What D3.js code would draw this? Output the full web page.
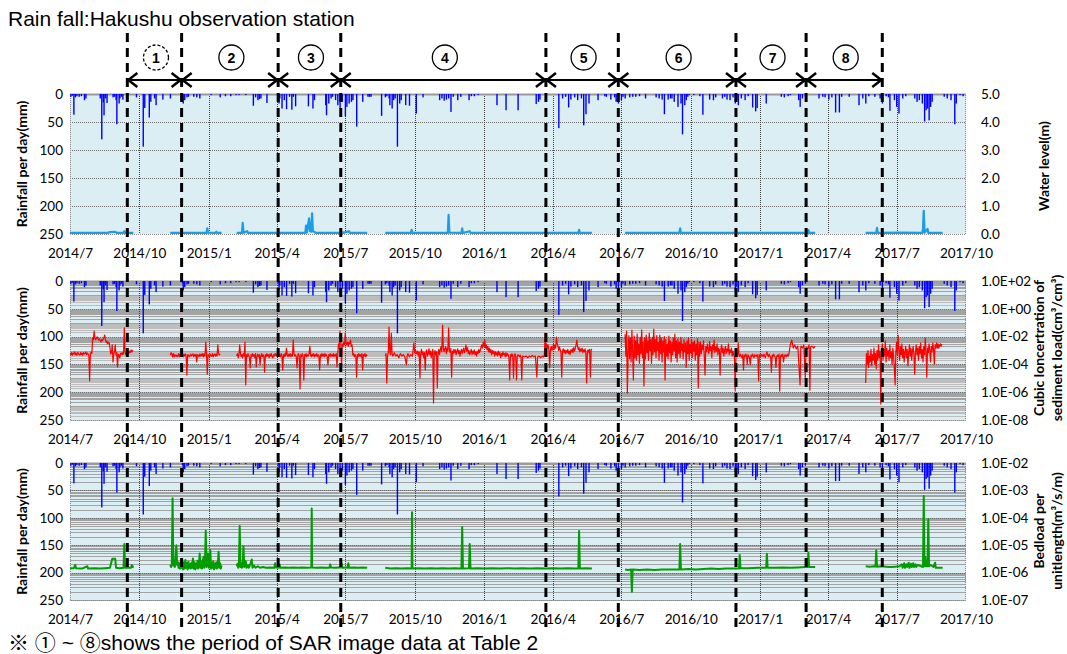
<!DOCTYPE html>
<html>
<head>
<meta charset="utf-8">
<script src="https://cdn.jsdelivr.net/npm/d3@7"></script>
<style>
  body { margin: 0; background: #fff; }
  svg { display: block; }
</style>
</head>
<body>
<svg id="chart" width="1067" height="654"></svg>
<script>
// ---- data (days counted from 2014/7/1) ----
var startDay = "2014-07-01";
var endDay = "2017-10-01";

var xTickLabels = ["2014/7","2014/10","2015/1","2015/4","2015/7","2015/10","2016/1","2016/4",
  "2016/7","2016/10","2017/1","2017/4","2017/7","2017/10"];

// SAR image dates (period boundaries)
var sarDates = ["2014-09-15","2014-11-26","2015-04-03","2015-06-25","2016-03-23",
  "2016-06-27","2016-11-30","2017-03-03","2017-06-12"];
var periodLabels = ["1","2","3","4","5","6","7","8"];

var rainTicks = [0, 50, 100, 150, 200, 250];
var levelTicks = [0, 1, 2, 3, 4, 5];
var concTicks = [1e2, 1e0, 1e-2, 1e-4, 1e-6, 1e-8];
var bedTicks = [1e-2, 1e-3, 1e-4, 1e-5, 1e-6, 1e-7];

// daily rainfall [day, mm]
var rainfall = [
  [1,5],[3,3],[5,37],[7,6],[9,4],[12,5],[15,4],[19,11],[21,8],
  [40,8],[42,81],[44,15],[45,38],[47,8],[49,16],
  [57,6],[59,5],[61,11],[62,54],[65,17],[66,8],[68,5],[70,10],
  [88,6],[97,94],[99,25],[105,42],[107,14],[112,8],[114,20],[123,10],[133,8],
  [149,4],[150,17],[152,11],[155,6],[157,5],[164,5],[168,6],[172,8],
  [187,2],[199,6],[206,4],[213,4],[220,2],[224,2],[233,2],
  [243,21],[246,6],[249,11],[251,9],[253,8],[261,16],
  [276,4],[277,17],[278,8],[281,26],[284,11],[287,27],[291,5],[294,28],[296,5],[299,22],
  [316,22],[322,26],[324,11],
  [339,20],[340,38],[343,17],[346,8],[348,5],[352,11],[355,20],[358,26],[361,14],
  [365,40],[367,23],[370,17],[373,14],[375,11],[380,58],[388,14],
  [395,5],[397,5],[399,5],[413,39],[418,6],[420,4],[423,8],[424,20],[427,26],[429,11],[431,8],[434,94],[437,17],[439,11],
  [445,20],[450,21],[459,35],[468,6],
  [490,11],[493,8],[496,12],[499,10],[502,8],[505,32],[508,5],[514,11],[518,5],[529,11],[532,4],[536,4],[541,2],
  [566,20],[578,29],[594,29],[618,18],[621,14],[623,10],
  [648,61],[653,8],[657,5],[661,24],[664,10],[669,6],[673,11],[678,8],[681,56],[684,36],[688,17],
  [700,11],[709,4],[711,5],[717,10],[722,6],[724,14],[727,17],[731,11],[733,5],[736,8],[742,6],[746,5],[750,5],[755,4],[763,8],
  [777,6],[781,8],[785,10],[788,36],
  [793,10],[796,8],[798,8],[801,14],[806,23],[810,17],[812,72],[815,20],[817,11],[819,5],[821,2],[827,2],[835,4],[839,37],
  [848,10],[853,11],[856,6],[865,8],[868,5],[871,10],[875,11],[879,6],[882,17],[884,11],[886,20],[890,8],[895,11],[899,4],
  [905,24],[909,31],[911,25],[923,17],
  [943,5],[947,6],[952,4],[955,2],[966,11],[968,23],[971,8],[975,5],
  [993,8],[998,5],[1001,6],[1006,10],[1010,6],[1015,33],[1020,33],[1023,5],[1033,5],
  [1046,20],[1051,8],[1055,17],[1059,4],[1067,5],[1074,8],[1077,17],[1082,4],[1085,6],[1087,30],[1093,11],[1096,23],[1099,35],
  [1104,8],[1108,4],[1120,8],[1123,14],[1126,11],[1130,17],[1133,49],[1135,29],[1137,26],[1139,47],[1141,23],[1143,14],
  [1159,5],[1163,8],[1168,11],[1173,54],[1175,17],[1180,2],[1184,4]
];

// water level [day, m], one list per recording period
var waterLevel = [
  [[0,0.04],[50,0.04],[53,0.07],[60,0.08],[62,0.04],[71,0.04],[72,0.1],[73,0.04],[84,0.04]],
  [[133,0.04],[181,0.04],[182,0.2],[183,0.05],[193,0.04],[194,0.08],[195,0.04],[201,0.04]],
  [[221,0.04],[228,0.04],[229,0.4],[230,0.05],[235,0.1],[236,0.04],[312,0.04],[313,0.3],[314,0.06],[317,0.56],[318,0.1],
   [319,0.4],[320,0.08],[321,0.74],[322,0.1],[325,0.06],[326,0.04],[360,0.04],[361,0.07],[362,0.04],[370,0.1],[371,0.04],[394,0.04]],
  [[418,0.04],[452,0.04],[453,0.15],[454,0.04],[501,0.04],[502,0.68],[503,0.05],[519,0.04],[520,0.2],[521,0.04],[530,0.1],
   [531,0.04],[674,0.04],[675,0.15],[676,0.04],[692,0.04]],
  [[736,0.04],[808,0.04],[809,0.2],[810,0.04],[882,0.04],[883,0.14],[884,0.04],[978,0.04],[979,0.14],[980,0.04],[988,0.04]],
  [[1055,0.04],[1069,0.04],[1070,0.22],[1071,0.04],[1102,0.05],[1130,0.04],[1131,0.2],[1132,0.83],[1133,0.05],[1137,0.18],
   [1138,0.04],[1157,0.04]]
];

// cubic concentration of sediment load [day, cm3/cm3]
var concentration = [
  [[0,6.6e-4],[1,5e-4],[2,7e-4],[3,4.5e-4],[4,6.6e-4],[5,5.6e-4],[6,8e-4],[7,5e-4],[8,6.5e-4],[9,4.5e-4],[10,7e-4],
   [11,6.6e-4],[12,5e-4],[13,4.7e-4],[14,7e-4],[15,5e-4],[16,6.6e-4],[17,4.5e-4],[18,7e-4],[19,5.6e-4],[20,6e-4],
   [21,7.8e-4],[22,5e-4],[23,6.5e-4],[24,5.6e-4],[25,4.5e-4],[26,6.4e-6],[27,5.6e-4],[28,7.8e-4],[29,6e-4],[30,7.9e-3],
   [31,6e-3],[32,2.5e-2],[33,7.9e-3],[34,6e-3],[35,8e-3],[36,9.4e-3],[37,7e-3],[38,5.7e-3],[39,7e-3],[40,5e-3],
   [41,4.1e-3],[42,6e-3],[43,5e-3],[44,6.7e-3],[45,8e-3],[46,1.3e-2],[47,6e-3],[48,4e-3],[49,4.8e-3],[50,3e-3],
   [51,4e-3],[52,3.5e-3],[53,1.5e-3],[54,5.6e-4],[55,7e-4],[56,2.5e-3],[57,1.5e-4],[58,6e-4],[59,8e-4],[60,2.5e-3],
   [61,4.7e-4],[62,7e-4],[63,6.5e-5],[64,5.6e-4],[65,4.7e-4],[66,2.9e-4],[67,6e-4],[68,6.6e-4],[69,5e-4],[70,7e-4],
   [71,5.5e-4],[72,4.2e-2],[73,7.8e-4],[74,5e-4],[75,7e-4],[76,5.6e-4],[77,7e-4],[78,6.6e-4],[79,9e-4],[80,7e-4],
   [81,1.1e-3],[82,8e-4],[83,1e-3],[84,9.2e-4]],
  [[133,4.7e-4],[134,7e-4],[135,5.6e-4],[136,3.5e-4],[137,6e-4],[138,3.4e-4],[139,5e-4],[140,4e-4],[141,4.7e-4],
   [142,3.5e-4],[143,4e-4],[144,6e-4],[145,3.5e-4],[146,5.6e-4],[147,4e-4],[148,5.5e-4],[149,4e-4],[150,3.5e-4],
   [151,5.5e-4],[152,4e-4],[153,5.6e-4],[154,4e-4],[155,1.7e-5],[156,5e-4],[157,4.7e-4],[158,3.5e-4],[159,4e-4],
   [160,5.5e-4],[161,4e-4],[162,5e-4],[163,5.6e-4],[164,3.5e-4],[165,5e-4],[166,4e-4],[167,5.5e-4],[168,1.5e-4],
   [169,5e-4],[170,4.7e-4],[171,3.5e-4],[172,5.5e-4],[173,4e-4],[174,5.6e-4],[175,4e-4],[176,6e-4],[177,3.5e-4],
   [178,5.6e-4],[179,4e-4],[180,4.1e-3],[181,6e-4],[182,2e-5],[183,5e-4],[184,4.7e-4],[185,3.5e-4],[186,5.5e-4],
   [187,4e-4],[188,4e-4],[189,6e-4],[190,3.5e-4],[191,5e-4],[192,5.6e-4],[193,4e-4],[194,5.5e-4],[195,4e-4],
   [196,2.5e-3],[197,6e-4],[198,4.7e-4],[199,5.6e-4]],
  [[221,4e-4],[222,6e-4],[223,3e-4],[224,5e-4],[225,2.5e-3],[226,6e-4],[227,3.5e-4],[228,5e-4],[229,3e-4],[230,6e-4],
   [231,4e-4],[232,4.1e-3],[233,3.3e-6],[234,5e-4],[235,3.5e-4],[236,6e-4],[237,4e-4],[238,3e-4],[239,5.5e-5],[240,5e-4],
   [241,3.5e-4],[242,6e-4],[243,4e-4],[244,5e-4],[245,3e-4],[246,6e-4],[247,6.5e-5],[248,4e-4],[249,5.5e-4],[250,3.5e-4],
   [251,5e-4],[252,9.1e-5],[253,4e-4],[254,6e-4],[255,3.5e-4],[256,5e-4],[257,4e-4],[258,2.8e-5],[259,5e-4],[260,3.5e-4],
   [261,6e-4],[262,4e-4],[263,5e-4],[264,3e-4],[265,5.5e-4],[266,4e-4],[267,6e-4],[268,3.5e-4],[269,2.9e-4],[270,5e-4],
   [271,4e-4],[272,6e-4],[273,4.5e-4],[274,5.5e-4],[275,3.5e-4],[276,6e-4],[277,4e-4],[278,5e-4],[279,3.5e-4],[280,6e-4],
   [281,4e-4],[282,4e-5],[283,5e-4],[284,3.5e-4],[285,6e-4],[286,4e-4],[287,1.5e-3],[288,5e-4],[289,3.5e-4],[290,5.5e-4],
   [291,4e-4],[292,6e-4],[293,3.5e-4],[294,5e-4],[295,4e-4],[296,5.7e-3],[297,6e-4],[298,4e-4],[299,5e-4],[300,3.5e-4],
   [301,5.5e-5],[302,4.5e-4],[303,6e-4],[304,4e-4],[305,1.7e-6],[306,5e-4],[307,3.5e-4],[308,6e-4],[309,4e-4],[310,7.6e-6],
   [311,5e-4],[312,4e-4],[313,6e-4],[314,3.5e-4],[315,5e-4],[316,4e-4],[317,6e-4],[318,2.1e-3],[319,4.5e-4],[320,3.5e-4],
   [321,5.5e-4],[322,4e-4],[323,6e-4],[324,3.5e-4],[325,5e-4],[326,4e-4],[327,6e-4],[328,3.5e-4],[329,5e-4],[330,4e-4],
   [331,4e-5],[332,5e-4],[333,3.5e-4],[334,6e-4],[335,4e-4],[336,5.5e-4],[337,3.5e-4],[338,6e-4],[339,4e-4],[340,5e-4],
   [341,3.5e-4],[342,9.1e-5],[343,5e-4],[344,4e-4],[345,6e-4],[346,3.5e-4],[347,5e-4],[348,4e-4],[349,6e-4],[350,3.5e-4],
   [351,5e-4],[352,4e-4],[353,6e-4],[354,6.5e-5],[355,5.6e-4],[356,3e-3],[357,1.5e-3],[358,2.5e-2],[359,4e-3],[360,5.5e-5],
   [361,3e-3],[362,2e-3],[363,4e-3],[364,2.5e-3],[365,1.8e-2],[366,3.5e-3],[367,2.5e-3],[368,4e-3],[369,2e-3],[370,4.1e-3],
   [371,3e-3],[372,5.7e-3],[373,2e-3],[374,2.5e-3],[375,4.7e-4],[376,6e-4],[377,3.5e-4],[378,5e-4],[379,4e-4],[380,1.2e-5],
   [381,5e-4],[382,3.5e-4],[383,6e-4],[384,4e-4],[385,5e-4],[386,3.5e-4],[387,6e-4],[388,4e-5],[389,5e-4],[390,4e-4],
   [391,6e-4],[392,3.5e-4],[393,5e-4],[394,4e-4]],
  [[418,4e-4],[419,6e-4],[420,4.6e-6],[421,4e-4],[422,7e-4],[423,4.9e-2],[424,9e-4],[425,5e-4],[426,1.8e-2],[427,6e-4],
   [428,4e-4],[430,7e-4],[432,4e-4],[434,5e-4],[436,3e-4],[438,6e-4],[440,4e-4],[442,5e-4],[444,3.5e-4],[446,9.1e-5],
   [447,4e-4],[448,6e-4],[450,3.5e-4],[452,5e-4],[454,4e-4],[456,3.5e-3],[457,6.6e-4],[458,1.1e-3],[460,5.6e-4],
   [461,9e-4],[462,4e-4],[463,7.8e-4],[464,1.05e-5],[465,6.6e-4],[466,1.2e-3],[467,5e-4],[468,8e-4],[469,3e-4],[470,7e-4],
   [471,4e-5],[472,7.8e-4],[473,1.1e-3],[474,4e-4],[475,6e-4],[476,1.3e-3],[477,5e-4],[478,9e-4],[479,3e-4],[480,7e-4],
   [481,1.2e-3],[482,1.7e-7],[483,6.6e-4],[484,1e-3],[485,4.7e-4],[486,8e-4],[487,2e-6],[488,7e-4],[489,1.2e-3],
   [490,5e-4],[491,1.1e-3],[492,2e-3],[493,8e-4],[494,6.8e-2],[495,1.5e-3],[496,8e-4],[497,1.3e-3],[498,2e-3],[499,6e-4],
   [500,1.5e-3],[501,9e-4],[502,4.2e-2],[503,1.1e-3],[504,7e-4],[505,1.4e-3],[506,1.2e-5],[507,9e-4],[508,6e-4],
   [509,1.2e-3],[510,7e-4],[511,1.1e-3],[512,5e-4],[513,9e-4],[514,1.3e-3],[515,6e-4],[516,1e-3],[517,4e-4],[518,8e-4],
   [519,1.2e-3],[520,6e-4],[521,1e-3],[522,1.5e-3],[523,7e-4],[524,1.1e-3],[525,2.5e-3],[526,9e-4],[527,1.6e-3],
   [528,6e-4],[529,1e-3],[530,5e-4],[531,8e-4],[532,1.2e-3],[533,5e-4],[534,9e-4],[535,6e-4],[536,1.1e-3],[537,5e-4],
   [538,8e-4],[539,4e-4],[540,9e-4],[541,6e-4],[542,1.2e-3],[543,7e-4],[544,1e-3],[545,1.8e-3],[546,2.5e-3],[547,1.5e-3],
   [548,4e-3],[549,2e-3],[550,5.7e-3],[551,1.5e-3],[552,2.5e-3],[553,1.1e-3],[554,2e-3],[555,8e-4],[556,1.5e-3],
   [557,7e-4],[558,1.2e-3],[559,5e-4],[560,1e-3],[561,6e-4],[562,9e-4],[563,4e-4],[564,8e-4],[565,5e-4],[566,7e-4],
   [567,4e-4],[568,9e-4],[569,5e-4],[570,7e-4],[571,3e-4],[572,6e-4],[573,4e-4],[574,8e-4],[575,5e-4],[576,6e-4],
   [577,3.5e-4],[578,7e-4],[579,4e-4],[580,6e-4],[581,4.7e-4],[582,3e-4],[583,7.6e-6],[584,5e-4],[585,3.5e-4],[586,6e-4],
   [587,4e-4],[588,1.05e-5],[589,4e-4],[590,6e-4],[591,3.5e-4],[592,7.6e-6],[593,4e-4],[594,5e-4],[596,3.5e-4],
   [597,4.7e-4],[598,3e-4],[599,7.6e-6],[600,4e-4],[603,3.4e-4],[605,4e-4],[607,3e-4],[609,4e-4],[611,3.4e-4],
   [613,4.5e-4],[615,3.5e-4],[617,4e-4],[619,1.2e-5],[620,3.4e-4],[622,4e-4],[624,3e-4],[626,4e-4],[628,3.4e-4],
   [629,5e-4],[630,1.8e-2],[631,1.1e-3],[632,3e-3],[633,1.5e-3],[634,2.5e-3],[635,1e-3],[636,5.5e-5],[637,1.1e-3],
   [638,2e-3],[639,1e-3],[640,1.5e-3],[641,3e-3],[642,1.2e-3],[643,2.5e-3],[644,1.5e-3],[645,9.4e-3],[646,3e-3],
   [647,2.1e-3],[648,1e-3],[649,1.8e-3],[650,1.1e-3],[651,7e-4],[652,1.2e-5],[653,9e-4],[654,1.3e-3],[655,7e-4],
   [656,1.1e-3],[657,6e-4],[658,1e-3],[659,7e-4],[660,1.2e-3],[661,6e-4],[662,9e-4],[663,5e-4],[664,1.1e-3],[665,8e-4],
   [666,1.3e-3],[667,7e-4],[668,1.6e-3],[669,9e-4],[670,1.5e-3],[671,2.5e-3],[672,5.7e-3],[673,1.8e-3],[674,1.1e-3],
   [675,1.6e-3],[676,8e-4],[677,1.3e-3],[678,9e-4],[679,1.5e-3],[680,7e-4],[681,1.1e-3],[682,8e-4],[683,1.3e-3],
   [684,6e-4],[685,4.6e-6],[686,9e-4],[687,1.1e-3],[688,7e-4],[689,1.2e-3],[690,1.2e-5],[691,1.1e-3],[692,1.3e-3]],
  [[736,1.5e-2],[737,4e-4],[738,2.5e-2],[739,8.7e-7],[740,6e-4],[741,1.2e-2],[742,2.5e-4],[743,8e-3],[744,1.5e-4],
   [745,2.9e-2],[746,7e-4],[747,7.6e-6],[748,1.1e-2],[749,3e-4],[750,5e-3],[751,2e-4],[752,1.5e-2],[753,5e-4],[754,3e-3],
   [755,1.2e-4],[756,9e-3],[757,6e-4],[758,3e-2],[759,3e-4],[760,4e-3],[761,2.8e-6],[762,8e-3],[763,2.5e-4],[764,1.3e-2],
   [765,7e-4],[766,5e-3],[767,2e-4],[768,1.8e-2],[769,1e-3],[770,6e-3],[771,1.2e-4],[772,9e-3],[773,5e-4],[774,3.5e-2],
   [775,8e-4],[776,6e-3],[777,3e-4],[778,1.2e-2],[779,1e-3],[780,4e-3],[781,2e-4],[782,1.3e-2],[783,6e-4],[784,8e-3],
   [785,1.5e-4],[786,5e-3],[787,8e-4],[788,1e-2],[789,7.6e-6],[790,6e-3],[791,4e-4],[792,3e-3],[793,2.5e-4],[794,1.1e-2],
   [795,7e-4],[796,5e-3],[797,1.5e-4],[798,4e-3],[799,5e-4],[800,8e-3],[801,9e-4],[802,1.5e-2],[803,3e-4],[804,5e-3],
   [805,1.5e-4],[806,7e-3],[807,6e-4],[808,4e-3],[809,3e-4],[810,9e-3],[811,1e-3],[812,3e-3],[813,2.5e-4],[814,6e-3],
   [815,8e-4],[816,3.5e-3],[817,6e-5],[818,5e-3],[819,6e-4],[820,8e-3],[821,2e-4],[822,3e-3],[823,7e-4],[824,6e-3],
   [825,3e-4],[826,4e-3],[827,9e-4],[828,5e-3],[829,2e-4],[830,3e-3],[831,5e-4],[832,7e-3],[833,2e-6],[834,4e-3],
   [835,4e-4],
   [836,4e-3],[837,6e-4],[838,2.5e-3],[839,1.1e-3],[840,5e-3],[841,4e-4],[842,1.7e-5],[843,2e-3],[844,8e-4],[845,3e-3],
   [846,1.3e-3],[847,6e-4],[848,4.5e-3],[849,1e-3],[850,2e-3],[851,3e-4],[852,2.5e-3],[853,1.1e-3],[854,5.7e-3],[855,7e-4],
   [856,1.8e-3],[857,9e-4],[858,3e-3],[859,5e-4],[860,1.5e-3],[861,1.1e-3],[862,1.7e-5],[863,1.3e-3],[864,2.5e-3],
   [865,7e-4],[866,1.5e-3],[867,4e-4],[868,1.1e-3],[869,2e-3],[870,6e-4],[871,1.3e-3],[872,9e-4],[873,3e-3],[874,5e-4],
   [875,1.1e-3],[876,7e-4],[877,1.5e-3],[878,4e-4],[879,9e-4],
   [880,4.7e-4],[881,3.5e-4],[882,1.2e-6],[883,4e-4],[884,5.5e-4],[885,3.5e-4],[886,3.5e-3],[887,4.7e-4],[888,3.5e-4],
   [889,5.5e-4],[890,4e-4],[891,3e-4],[892,5e-4],[893,4e-5],[894,4.7e-4],[895,3.5e-4],[896,5.5e-4],[897,4e-4],[898,1e-4],
   [899,5e-4],[900,4e-4],[901,3e-4],[902,9.1e-5],[903,4.7e-4],[904,3.5e-4],[905,5.5e-4],[906,4e-4],[907,3e-4],[908,5e-4],
   [909,4e-4],[910,4.7e-4],[911,3.5e-4],[912,5e-4],[913,6.4e-6],[914,4e-4],[915,5.5e-4],[916,3.5e-4],[917,5e-4],
   [918,4.7e-4],[919,3.5e-4],[920,5.5e-4],[921,4e-4],[922,3e-4],[923,5e-4],[924,8e-4],[925,4.7e-4],[926,3.5e-4],
   [927,5.5e-4],[928,4e-4],[929,3.5e-4],[930,2.8e-5],[931,4.7e-4],[932,3.5e-4],[933,5.5e-4],[934,4e-4],[935,3.5e-4],
   [936,6e-5],[937,4e-4],[938,4.7e-4],[939,3.5e-4],[940,5.5e-4],[941,1.2e-6],[942,4e-4],[943,5e-4],[944,3.5e-4],
   [945,5.5e-4],[946,1.5e-4],[947,3.5e-4],[948,5e-4],[949,4e-4],[950,3.5e-4],[951,5.5e-4],[952,4e-4],[953,4.7e-4],
   [955,2.5e-3],[957,5.7e-3],[959,1.5e-3],[961,2.5e-3],[963,1.3e-3],[965,2.1e-3],[968,3.3e-6],[969,2.1e-3],[971,1.5e-3],
   [973,2.5e-3],[975,1.05e-5],[976,1.8e-3],[978,1.3e-3],[980,2.5e-3],[981,1.4e-6],[982,1.8e-3],[984,2.1e-3],[986,1.5e-3],
   [988,2.1e-3]],
  [[1055,4.6e-6],[1056,6e-4],[1057,1e-4],[1058,1e-3],[1059,6e-5],[1060,4e-4],[1061,1.5e-4],[1062,1.2e-3],[1063,8e-5],
   [1064,5e-4],[1065,2e-4],[1066,1.5e-3],[1067,1e-4],[1068,6e-4],[1069,5e-5],[1070,1e-3],[1071,2e-4],[1072,2.5e-3],
   [1073,3e-4],[1074,9e-4],[1075,1.4e-7],[1076,7e-4],[1077,3e-3],[1078,2e-4],[1079,1.2e-3],[1080,4e-4],[1081,5e-3],
   [1082,1.5e-4],[1083,1.5e-3],[1084,4e-4],[1085,1e-3],[1086,2e-4],[1087,2.5e-3],[1088,3e-4],[1089,8e-4],[1090,1e-4],
   [1091,1.5e-3],[1092,4e-4],[1093,5e-5],[1094,3.3e-6],[1095,8e-4],[1096,4e-3],[1097,5e-4],[1098,1.3e-2],[1099,1e-3],
   [1100,2e-4],[1101,2e-3],[1102,5e-4],[1103,3e-3],[1104,3e-4],[1105,1.2e-3],[1106,1.5e-4],[1107,8e-4],[1108,2e-3],
   [1109,3e-4],[1110,1.2e-3],[1111,8e-5],[1112,7e-4],[1113,2.5e-3],[1114,4e-4],[1115,1.5e-3],[1116,2e-4],[1117,1e-3],
   [1118,2e-3],[1119,4e-4],[1120,2e-5],[1121,8e-4],[1122,2.5e-3],[1123,5e-4],[1124,1.5e-3],[1125,2e-4],[1126,2e-3],
   [1127,6e-4],[1128,3.5e-3],[1129,3e-4],[1130,1.2e-3],[1131,1.5e-4],[1132,2e-3],[1133,5e-4],[1134,7.9e-3],[1135,1e-3],
   [1136,1.2e-5],[1137,1.5e-3],[1138,7e-4],[1139,3e-3],[1140,1e-3],[1141,1.5e-4],[1142,2e-3],[1143,8e-4],[1144,3.5e-3],
   [1145,1.2e-3],[1146,1e-4],[1147,2.5e-3],[1148,1.5e-3],[1149,3.5e-3],[1150,1.5e-3],[1151,3e-3],[1152,1.5e-3],
   [1153,2.5e-3],[1154,3e-3],[1155,2e-3],[1156,3e-3]]
];

// bedload per unit length [day, m3/s/m]
var bedload = [
  [[0,1.45e-6],[5,1.45e-6],[7,1.9e-6],[8,1.45e-6],[16,1.4e-6],[23,1.7e-6],[24,1.4e-6],[33,1.45e-6],[40,1.4e-6],
   [46,1.45e-6],[53,1.5e-6],[56,3.2e-6],[60,3.2e-6],[61,1.5e-6],[66,1.45e-6],[71,1.5e-6],[72,1.1e-5],[73,1.5e-6],
   [77,1.5e-6],[81,1.5e-6],[82,1.9e-6],[84,1.5e-6]],
  [[133,1.9e-6],[134,1.6e-6],[135,2e-6],[136,5.2e-4],[137,1.8e-6],[138,2.2e-6],[139,1.6e-6],[141,1e-5],[142,1.9e-6],
   [143,2.4e-6],[144,1.5e-6],[145,2.2e-6],[146,1.4e-6],[147,2.6e-6],[148,1.5e-6],[149,2.1e-6],[150,1.3e-6],[151,2.4e-6],
   [152,1.4e-6],[153,2.9e-6],[154,1.5e-6],[155,2.2e-6],[156,1.3e-6],[157,2.5e-6],[158,1.5e-6],[159,2e-6],[160,1.4e-6],
   [161,2.3e-6],[162,1.5e-6],[163,3.3e-6],[164,1.4e-6],[165,2.4e-6],[166,1.3e-6],[167,2.1e-6],[168,1.5e-6],[169,2.7e-6],
   [170,1.4e-6],[171,2.2e-6],[172,5e-6],[173,1.5e-6],[174,2.6e-6],[175,1.4e-6],[176,2.1e-6],[177,3.8e-6],[178,1.5e-6],
   [179,2.4e-6],[180,3.4e-5],[181,1.6e-6],[182,2.2e-6],[183,5e-6],[184,1.5e-6],[185,2.5e-6],[186,6.7e-6],[187,1.4e-6],
   [188,2.3e-6],[189,1.5e-6],[190,2.6e-6],[191,1.3e-6],[192,2.1e-6],[193,1.5e-6],[194,2.4e-6],[195,1.4e-6],[196,2e-6],
   [197,5.8e-6],[198,1.5e-6],[199,2.2e-6],[200,1.4e-6],[201,1.8e-6]],
  [[221,1.7e-6],[222,2.1e-6],[223,1.5e-6],[224,1.9e-6],[225,5e-5],[226,1.6e-6],[227,2.2e-6],[228,1.5e-6],[229,1.9e-6],
   [230,9e-6],[231,1.6e-6],[232,2.1e-6],[233,2.6e-6],[234,1.5e-6],[236,1.9e-6],[237,1.5e-6],[239,2e-6],[241,3e-6],
   [242,1.5e-6],[244,1.8e-6],[246,1.5e-6],[249,1.7e-6],[252,1.5e-6],[256,1.6e-6],[260,1.5e-6],[265,1.55e-6],[270,1.5e-6],
   [271,1.5e-6],[272,2.2e-6],[273,1.55e-6],[277,1.5e-6],[278,2e-6],[279,1.5e-6],[285,1.55e-6],[290,1.5e-6],[296,1.55e-6],
   [302,1.5e-6],[308,1.55e-6],[314,1.5e-6],[320,1.55e-6],[320.5,2.2e-4],[321,1.55e-6],[327,1.5e-6],[333,1.55e-6],
   [339,1.5e-6],[344,1.5e-6],[345,2e-6],[346,1.55e-6],[352,1.5e-6],[357,1.55e-6],[359,1.55e-6],[360,2.2e-6],[361,1.5e-6],
   [366,1.55e-6],[368,1.5e-6],[369,2.2e-6],[370,1.5e-6],[376,1.55e-6],[382,1.5e-6],[388,1.55e-6],[394,1.5e-6]],
  [[418,1.5e-6],[425,1.4e-6],[432,1.45e-6],[440,1.4e-6],[447,1.45e-6],[453,1.4e-6],[453.5,1.6e-4],[454,1.4e-6],
   [462,1.45e-6],[470,1.4e-6],[478,1.45e-6],[486,1.4e-6],[494,1.45e-6],[502,1.4e-6],[510,1.45e-6],[519,1.4e-6],
   [520,4.6e-5],[521,1.4e-6],[529,1.45e-6],[530,1.1e-5],[531,1.4e-6],[540,1.45e-6],[550,1.4e-6],[560,1.45e-6],
   [570,1.4e-6],[580,1.45e-6],[590,1.4e-6],[600,1.45e-6],[610,1.4e-6],[620,1.45e-6],[630,1.4e-6],[640,1.45e-6],
   [650,1.4e-6],[660,1.45e-6],[670,1.4e-6],[674,1.4e-6],[675,3.3e-5],[676,1.4e-6],[684,1.45e-6],[692,1.4e-6]],
  [[736,1.3e-6],[740,1.25e-6],[744,1.3e-6],[745,2e-7],[746,1.3e-6],[755,1.25e-6],[765,1.3e-6],[775,1.25e-6],[785,1.3e-6],
   [795,1.3e-6],[805,1.3e-6],[808,1.3e-6],[809,1.1e-5],[810,1.3e-6],[820,1.35e-6],[830,1.3e-6],[840,1.35e-6],
   [850,1.4e-6],[860,1.35e-6],[870,1.4e-6],[880,1.4e-6],[887,1.4e-6],[888,4.4e-6],[889,1.45e-6],[900,1.45e-6],
   [912,1.5e-6],[923,1.5e-6],[924,4.9e-6],[925,1.5e-6],[935,1.5e-6],[945,1.55e-6],[955,1.5e-6],[965,1.55e-6],
   [975,1.6e-6],[978,1.6e-6],[979,5.3e-6],[980,1.6e-6],[988,1.6e-6]],
  [[1055,1.7e-6],[1060,1.65e-6],[1066,1.7e-6],[1068,1.65e-6],[1069,6.6e-6],[1070,1.65e-6],[1076,1.7e-6],[1082,1.65e-6],
   [1088,1.6e-6],[1094,1.65e-6],[1100,1.7e-6],[1103,2e-6],[1104,1.5e-6],[1106,2.2e-6],[1107,1.5e-6],[1109,2e-6],
   [1110,1.6e-6],[1112,2.3e-6],[1113,1.5e-6],[1115,2.1e-6],[1116,1.6e-6],[1118,2.2e-6],[1119,1.6e-6],[1121,2e-6],
   [1122,1.6e-6],[1124,1.9e-6],[1131,1.6e-6],[1132,6.3e-4],[1133,1.7e-6],[1134,3.8e-6],[1135,1.7e-6],[1137,1.7e-6],
   [1138,8.9e-5],[1139,1.7e-6],[1141,1.9e-6],[1145,1.6e-6],[1147,2.3e-6],[1148,1.5e-6],[1152,1.5e-6],[1157,1.5e-6]]
];

// ---- drawing ----
var svg = d3.select("#chart");
var parseDate = d3.timeParse("%Y-%m-%d");
var parseTick = d3.timeParse("%Y/%m");
var dayZero = parseDate(startDay);
var tickFont = "Lato, 'Open Sans', sans-serif";

function dayToDate(d) { return new Date(dayZero.getTime() + d * 864e5); }

var x = d3.scaleTime()
  .domain([parseDate(startDay), parseDate(endDay)])
  .range([70, 966]);
var xTicks = xTickLabels.map(function (s) { return parseTick(s); });

function expFormat(v) {
  var e = Math.round(Math.log10(v));
  return "1.0E" + (e < 0 ? "-" : "+") + (Math.abs(e) < 10 ? "0" : "") + Math.abs(e);
}

var panels = [
  { top: 94, bottom: 234, id: "p1" },
  { top: 281, bottom: 420, id: "p2" },
  { top: 463, bottom: 600, id: "p3" }
];
panels[0].y2 = d3.scaleLinear().domain([0, 5]).range([panels[0].bottom, panels[0].top]);
panels[1].y2 = d3.scaleLog().domain([1e-8, 1e2]).range([panels[1].bottom, panels[1].top]);
panels[2].y2 = d3.scaleLog().domain([1e-7, 1e-2]).range([panels[2].bottom, panels[2].top]);

panels.forEach(function (p, pi) {
  var g = svg.append("g");
  var yRain = d3.scaleLinear().domain([0, 250]).range([p.top, p.bottom]);

  g.append("clipPath").attr("id", "clip-" + p.id)
    .append("rect").attr("x", 70).attr("y", p.top).attr("width", 896).attr("height", p.bottom - p.top);

  g.append("rect")
    .attr("x", 70).attr("y", p.top)
    .attr("width", 896).attr("height", p.bottom - p.top)
    .attr("fill", "#DAEEF3");

  // log minor grid lines (darker just below the labelled decades of panel 2)
  if (pi > 0) {
    var dom = p.y2.domain();
    var lo = Math.round(Math.log10(dom[0])), hi = Math.round(Math.log10(dom[1]));
    var minor = [];
    for (var e = lo; e < hi; e++) {
      for (var k = 1; k <= 9; k++) minor.push({ v: k * Math.pow(10, e), dark: pi === 2 || Math.abs(e % 2) === 1 });
    }
    g.append("g").selectAll("line").data(minor).enter().append("line")
      .attr("x1", 70).attr("x2", 966)
      .attr("y1", function (d) { return Math.round(p.y2(d.v)) + 0.5; })
      .attr("y2", function (d) { return Math.round(p.y2(d.v)) + 0.5; })
      .attr("stroke", function (d) { return d.dark ? "#A3A3A3" : "#BDBDBD"; })
      .attr("stroke-width", 1);
  }

  // dotted grid
  g.append("g").selectAll("line").data(rainTicks.slice(1, -1)).enter().append("line")
    .attr("x1", 70).attr("x2", 966)
    .attr("y1", function (d) { return Math.round(yRain(d)) + 0.5; })
    .attr("y2", function (d) { return Math.round(yRain(d)) + 0.5; })
    .attr("stroke", "#6F6F6F").attr("stroke-dasharray", "1,1");
  g.append("g").selectAll("line").data(xTicks.slice(1, -1)).enter().append("line")
    .attr("x1", function (d) { return Math.round(x(d)) + 0.5; })
    .attr("x2", function (d) { return Math.round(x(d)) + 0.5; })
    .attr("y1", p.top).attr("y2", p.bottom)
    .attr("stroke", "#404040").attr("stroke-dasharray", "1,1");

  // border
  g.append("path")
    .attr("d", "M70.5," + p.top + "V" + (p.bottom + 0.5) + "H965.5V" + p.top)
    .attr("fill", "none").attr("stroke", "#8C8C8C").attr("stroke-dasharray", "1,1");
  g.append("line")
    .attr("x1", 70).attr("x2", 966).attr("y1", p.top + 0.5).attr("y2", p.top + 0.5)
    .attr("stroke", "#9A9A9A").attr("stroke-width", 2);

  var plot = g.append("g").attr("clip-path", "url(#clip-" + p.id + ")");

  // series on right axis
  var series, color, width;
  if (pi === 0) { series = waterLevel; color = "#1A9EE6"; width = 2.2; }
  else if (pi === 1) { series = concentration; color = "#FF0000"; width = 1.2; }
  else { series = bedload; color = "#009C00"; width = 2; }

  var line = d3.line()
    .x(function (d) { return x(dayToDate(d[0])); })
    .y(function (d) { return p.y2(d[1]); });

  plot.append("g").selectAll("path").data(series).enter().append("path")
    .attr("d", line)
    .attr("fill", "none")
    .attr("stroke", color)
    .attr("stroke-width", width)
    .attr("stroke-linejoin", "round");

  // rainfall bars hanging from the top
  plot.append("g").selectAll("rect").data(rainfall).enter().append("rect")
    .attr("x", function (d) { return x(dayToDate(d[0])) - 0.6; })
    .attr("y", p.top)
    .attr("width", 1.4)
    .attr("height", function (d) { return yRain(d[1]) - p.top; })
    .attr("fill", "#0000FF");

  // axes
  var ax = g.append("g").attr("transform", "translate(70,0)")
    .call(d3.axisLeft(yRain).tickValues(rainTicks).tickSize(0).tickPadding(7));
  var ax2 = g.append("g").attr("transform", "translate(966,0)")
    .call(d3.axisRight(p.y2)
      .tickValues(pi === 0 ? levelTicks : (pi === 1 ? concTicks : bedTicks))
      .tickSize(0).tickPadding(15)
      .tickFormat(pi === 0 ? d3.format(".1f") : expFormat));
  var ax3 = g.append("g").attr("transform", "translate(0," + p.bottom + ")")
    .call(d3.axisBottom(x).tickValues(xTicks).tickSize(0).tickPadding(14)
      .tickFormat(function (d, i) { return xTickLabels[i]; }));
  [ax, ax2, ax3].forEach(function (a) {
    a.select(".domain").remove();
    a.attr("font-family", tickFont).attr("font-size", 13.5);
    a.selectAll("text").attr("fill", "#000");
  });

  // left title
  g.append("text")
    .attr("transform", "translate(27," + ((p.top + p.bottom) / 2) + ") rotate(-90)")
    .attr("text-anchor", "middle")
    .attr("font-family", tickFont).attr("font-size", 14).attr("font-weight", "bold")
    .text("Rainfall per day(mm)");
});

// right titles
var rightTitles = [
  { cy: 166, lines: [["Water level(m)", 1049]] },
  { cy: 348, lines: [["Cubic loncertration of", 1044], ["sediment load(cm³/cm³)", 1062]] },
  { cy: 531, lines: [["Bedload per", 1044], ["unitlength(m³/s/m)", 1062]] }
];
rightTitles.forEach(function (t) {
  t.lines.forEach(function (l) {
    svg.append("text")
      .attr("transform", "translate(" + l[1] + "," + t.cy + ") rotate(-90)")
      .attr("text-anchor", "middle")
      .attr("font-family", tickFont).attr("font-size", 14).attr("font-weight", "bold")
      .text(l[0]);
  });
});

// SAR period markers
var sarX = sarDates.map(function (s) { return x(parseDate(s)); });

svg.append("g").selectAll("line").data(sarX).enter().append("line")
  .attr("x1", function (d) { return d; }).attr("x2", function (d) { return d; })
  .attr("y1", 33).attr("y2", 630)
  .attr("stroke", "#000").attr("stroke-width", 3).attr("stroke-dasharray", "9,6");

var arrowY = 80;
var periods = svg.append("g").selectAll("g").data(periodLabels).enter().append("g");
periods.append("line")
  .attr("x1", function (d, i) { return sarX[i] + 1; })
  .attr("x2", function (d, i) { return sarX[i + 1] - 1; })
  .attr("y1", arrowY).attr("y2", arrowY)
  .attr("stroke", "#000").attr("stroke-width", 2);
periods.append("path")
  .attr("d", function (d, i) {
    var a = sarX[i] + 1, b = sarX[i + 1] - 1;
    return "M" + (a + 9) + "," + (arrowY - 7) + "L" + a + "," + arrowY + "L" + (a + 9) + "," + (arrowY + 7) +
      "M" + (b - 9) + "," + (arrowY - 7) + "L" + b + "," + arrowY + "L" + (b - 9) + "," + (arrowY + 7);
  })
  .attr("fill", "none").attr("stroke", "#000").attr("stroke-width", 2.5);
periods.append("circle")
  .attr("cx", function (d, i) { return (sarX[i] + sarX[i + 1]) / 2 + 1.5; })
  .attr("cy", 57.5).attr("r", 12.5)
  .attr("fill", "#fff").attr("stroke", "#000").attr("stroke-width", 1.3)
  .attr("stroke-dasharray", function (d, i) { return i === 0 ? "3,2" : null; });
periods.append("text")
  .attr("x", function (d, i) { return (sarX[i] + sarX[i + 1]) / 2 + 1.5; })
  .attr("y", 62.5)
  .attr("text-anchor", "middle")
  .attr("font-family", "'Liberation Sans', Arial, sans-serif")
  .attr("font-size", 14).attr("font-weight", "bold")
  .text(function (d) { return d; });

// title and note
svg.append("text")
  .attr("x", 8).attr("y", 26)
  .attr("font-family", "'Liberation Sans', Arial, sans-serif").attr("font-size", 21)
  .text("Rain fall:Hakushu observation station");
svg.append("text")
  .attr("x", 8).attr("y", 650)
  .attr("font-family", "'Liberation Sans', Arial, 'Noto Sans CJK JP', sans-serif").attr("font-size", 21)
  .text("※ ① ~ ⑧shows the period of SAR image data at Table 2");
</script>
</body>
</html>
